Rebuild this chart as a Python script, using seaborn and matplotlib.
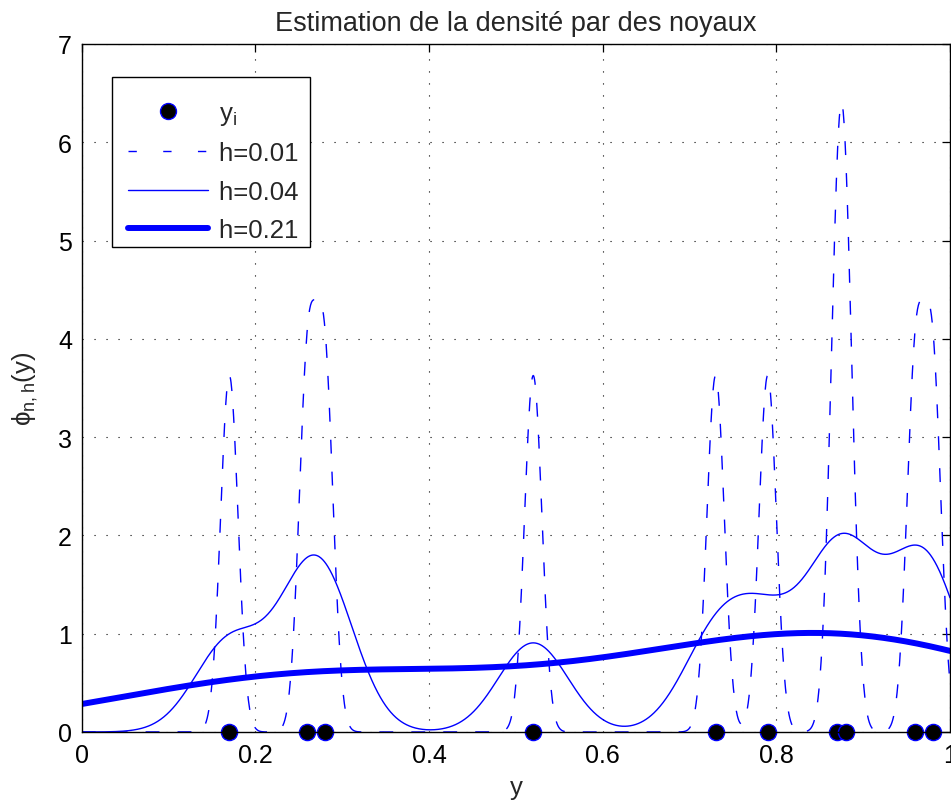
import numpy as np
import matplotlib
matplotlib.use("Agg")
import matplotlib.pyplot as plt
import seaborn as sns
from matplotlib.lines import Line2D
from matplotlib.legend_handler import HandlerLine2D

# ---- data ----
y_obs = [0.17, 0.26, 0.28, 0.52, 0.73, 0.79, 0.87, 0.88, 0.96, 0.98]
n_norm = 11                      # sample size used in the estimator's normalisation
bandwidths = [0.01, 0.04, 0.21]
curve_labels = ["h=0.01", "h=0.04", "h=0.21"]
x_ticks = [0, 0.2, 0.4, 0.6, 0.8, 1]
x_tick_labels = ["0", "0.2", "0.4", "0.6", "0.8", "1"]
y_ticks = [0, 1, 2, 3, 4, 5, 6, 7]

title = "Estimation de la densité par des noyaux"

sns.set_style("white")
plt.rcParams["font.family"] = ["Liberation Sans", "DejaVu Sans"]
plt.rcParams["mathtext.default"] = "regular"
FS_TICK = 18
FS_LEG = 18.5
FS_TITLE = 19.5
FS_LAB = 18.5

blue = "#0000ff"

fig = plt.figure(figsize=(9.51, 8.03), dpi=100)
ax = fig.add_axes([0.0859, 0.0872, 0.9131, 0.8568])

xs = np.linspace(0, 1, 2001)
obs = np.asarray(y_obs)


def gauss_kde(x, pts, h, n):
    u = (x[:, None] - pts[None, :]) / h
    return np.exp(-0.5 * u ** 2).sum(axis=1) / (n * h * np.sqrt(2 * np.pi))


styles = [
    dict(linewidth=1.0, linestyle=(0, (10, 13))),
    dict(linewidth=1.0, linestyle="-"),
    dict(linewidth=4.3, linestyle="-"),
]

for h, st in zip(bandwidths, styles):
    d = gauss_kde(xs, obs, h, n_norm)
    sns.lineplot(x=xs, y=d, ax=ax, color=blue, estimator=None, sort=False,
                 legend=False, zorder=3, **st)

sns.scatterplot(x=y_obs, y=np.zeros(len(y_obs)), ax=ax, s=135, color="black",
                edgecolor=blue, linewidth=1.0, clip_on=False, zorder=6, legend=False)

ax.set_xlim(0, 1)
ax.set_ylim(0, 7)
ax.set_xticks(x_ticks)
ax.set_xticklabels(x_tick_labels)
ax.set_yticks(y_ticks)
ax.set_yticklabels([str(t) for t in y_ticks])

ax.grid(True, color="black", linestyle=(0, (1, 9.8)), linewidth=0.8)
ax.set_axisbelow(True)
for sp in ax.spines.values():
    sp.set_visible(True)
    sp.set_color("black")
    sp.set_linewidth(1.0)
    sp.set_zorder(7)

ax.tick_params(direction="in", top=True, right=True, length=6, width=0.9,
               labelsize=FS_TICK, colors="black", pad=7)
ax.tick_params(axis="x", pad=8)

ax.set_title(title, fontsize=FS_TITLE, pad=10)
ax.set_xlabel("y", fontsize=FS_LAB, labelpad=6)
ax.set_ylabel(r"$\phi_{n,h}(y)$", fontsize=FS_LAB, labelpad=13)

handles = [
    Line2D([], [], linestyle="none", marker="o", markersize=11.5,
           markerfacecolor="black", markeredgecolor=blue, markeredgewidth=1.0),
    Line2D([], [], color=blue, linewidth=1.0, linestyle=(0, (6, 19))),
    Line2D([], [], color=blue, linewidth=1.0),
    Line2D([], [], color=blue, linewidth=4.3),
]
labels = [r"y$_{i}$"] + [lab + " " for lab in curve_labels]
leg = ax.legend(handles, labels, loc="upper left", bbox_to_anchor=(0.035, 0.952),
                borderaxespad=0, fontsize=FS_LEG, handlelength=3.54, handletextpad=0.41,
                labelspacing=0.565, borderpad=0.2, fancybox=False, framealpha=1,
                edgecolor="black", title=" ", title_fontsize=2.5,
                handler_map={Line2D: HandlerLine2D(xpad=0.43)})
leg.get_frame().set_linewidth(1.0)
leg.set_zorder(10)

fig.savefig("out.png", dpi=100)
